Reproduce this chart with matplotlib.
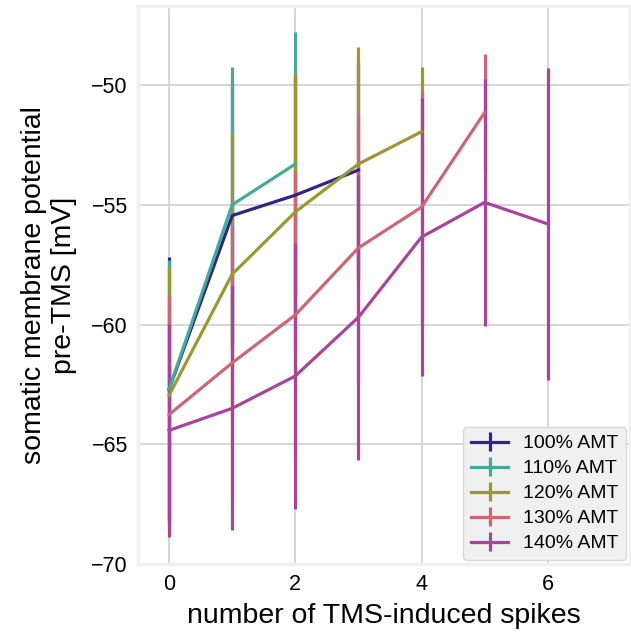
import matplotlib.pyplot as plt
import numpy as np

plt.rcParams['font.family'] = ['Liberation Sans', 'DejaVu Sans']

# mean somatic membrane potential (mV) and error per number of TMS-induced spikes
labels = ['100% AMT', '110% AMT', '120% AMT', '130% AMT', '140% AMT']
colors = ['#332288', '#44AA99', '#999933', '#CC6677', '#AA4499']

spikes_100 = [0, 1, 2, 3]
mean_100 = [-62.7, -55.45, -54.6, -53.55]
err_100 = [5.5, 5.5, 5.0, 4.5]

spikes_110 = [0, 1, 2]
mean_110 = [-62.7, -55.0, -53.3]
err_110 = [5.4, 5.75, 5.5]

spikes_120 = [0, 1, 2, 3, 4]
mean_120 = [-62.95, -57.9, -55.3, -53.3, -51.95]
err_120 = [5.35, 5.9, 5.75, 4.9, 2.7]

spikes_130 = [0, 1, 2, 3, 4, 5]
mean_130 = [-63.76, -61.6, -59.6, -56.8, -55.1, -51.15]
err_130 = [4.96, 5.7, 5.95, 5.65, 4.85, 2.45]

spikes_140 = [0, 1, 2, 3, 4, 5, 6]
mean_140 = [-64.42, -63.5, -62.15, -59.7, -56.35, -54.9, -55.8]
err_140 = [4.45, 5.1, 5.55, 5.95, 5.8, 5.15, 6.5]

series = [
    (spikes_100, mean_100, err_100),
    (spikes_110, mean_110, err_110),
    (spikes_120, mean_120, err_120),
    (spikes_130, mean_130, err_130),
    (spikes_140, mean_140, err_140),
]

fig = plt.figure(figsize=(6.31, 6.37), dpi=100)
ax = fig.add_axes([0.218, 0.1146, 0.78, 0.876])

for (x, y, e), lab, c in zip(series, labels, colors):
    ax.errorbar(x, y, yerr=e, color=c, label=lab, lw=2.3, elinewidth=2.3)

ax.set_xlim(-0.5, 7.3)
ax.set_ylim(-70, -46.7)
ax.set_xticks([0, 2, 4, 6])
ax.set_yticks([-70, -65, -60, -55, -50])
ax.grid(True, color='#d0d0d0', lw=1.2)
ax.set_axisbelow(True)
for s in ax.spines.values():
    s.set_color('#f0f0f0')
    s.set_linewidth(2.5)
ax.tick_params(length=0, labelsize=15.5, pad=7)

ax.set_xlabel('number of TMS-induced spikes', fontsize=20.5, labelpad=6)
ax.set_ylabel('somatic membrane potential\npre-TMS [mV]', fontsize=20.5, labelpad=10)

leg = ax.legend(loc='lower right', fontsize=14, facecolor='#f0f0f0',
                edgecolor='#d8d8d8', framealpha=1, handlelength=1.9,
                handletextpad=0.75, borderaxespad=0.2, labelspacing=0.38)

fig.savefig('out.png', dpi=100)
